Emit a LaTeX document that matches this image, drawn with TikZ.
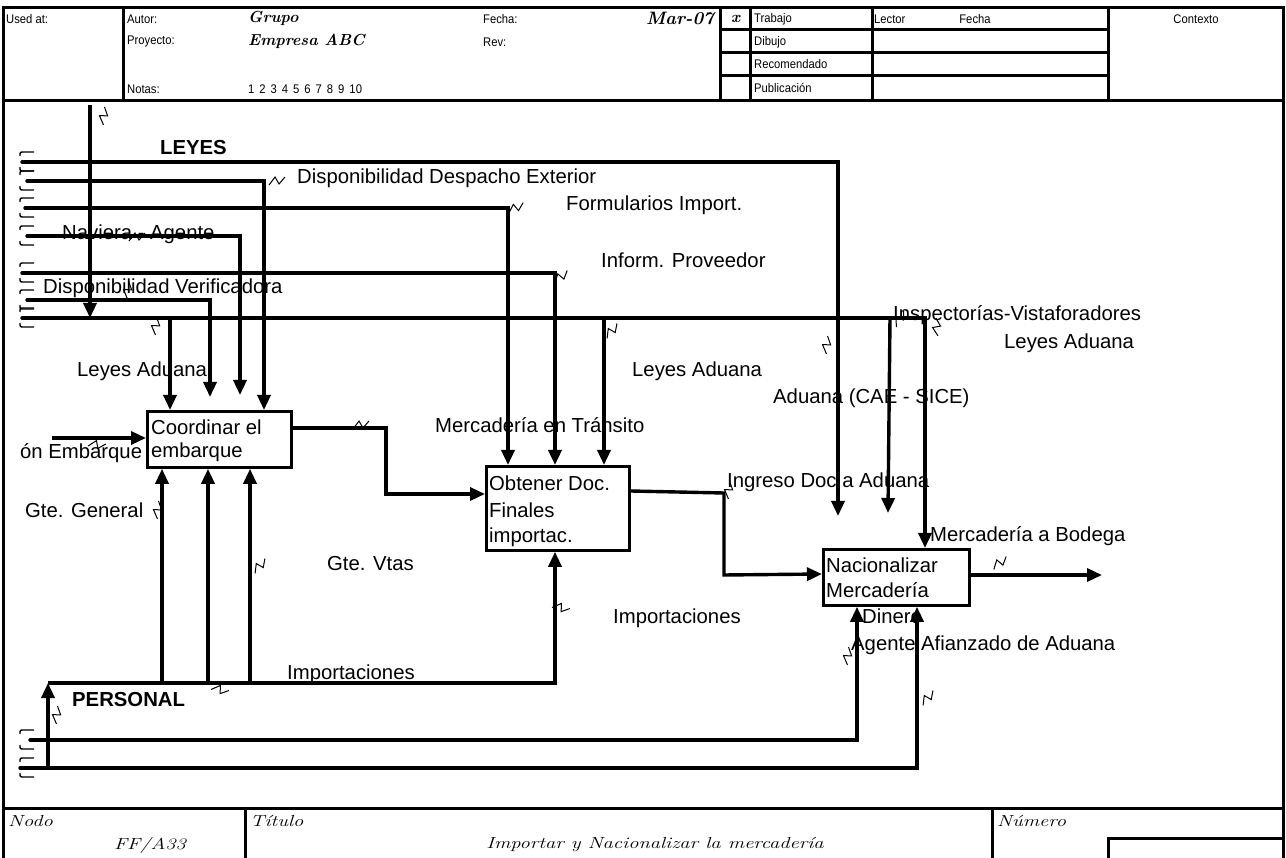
\documentclass[tikz,border=0pt]{standalone}
\usepackage{fontspec}
\newfontfamily\arial{Liberation Sans}
\newfontfamily\narrow{Liberation Sans}[FakeStretch=0.9]
\newfontfamily\scriptf{Latin Modern Roman}[FakeStretch=1.28]
\usetikzlibrary{arrows.meta}
\begin{document}
\begin{tikzpicture}[x=1pt,y=-1pt,
 conn/.style={line width=3.4pt},
 arr/.style={conn,-{Triangle[length=15pt,width=13pt]}},
 box/.style={draw,line width=2.8pt,inner sep=0,anchor=north west},
 lbl/.style={font=\arial\fontsize{20.3}{24}\selectfont,inner sep=0,anchor=west},
 blbl/.style={font=\arial\bfseries\fontsize{20.3}{24}\selectfont,inner sep=0,anchor=west},
 hdr/.style={font=\narrow\fontsize{12.5}{14}\selectfont,inner sep=0,anchor=west},
 scr/.style={font=\itshape\bfseries\fontsize{16}{18}\selectfont,inner sep=0,anchor=west},
 fscr/.style={font=\scriptf\itshape\fontsize{16}{18}\selectfont,inner sep=0},
 fr/.style={line width=3pt},
 sq/.pic={\draw[line width=1pt] (-8,4) -- (-2,-4) -- (2,3) -- (8,-4);},
 bt/.pic={\draw[line width=1.4pt] (0,4) .. controls (0,0) .. (4,0) -- (14,0);},
 bb/.pic={\draw[line width=1.4pt] (0,-4) .. controls (0,0) .. (4,0) -- (14,0);},
]
\useasboundingbox (0,0) rectangle (1286,858);
% ---------- frame ----------
\draw[fr] (3,858) -- (3,8) -- (1283,8) -- (1283,858);
\draw[fr] (3,101) -- (1283,101);
\foreach \x in {123,720,750,872,1108} \draw[fr] (\x,8) -- (\x,101);
\foreach \y in {30,53,76} \draw[fr] (720,\y) -- (1108,\y);
\draw[fr] (3,808) -- (1283,808);
\draw[fr] (245,808) -- (245,858);
\draw[fr] (992,808) -- (992,858);
\draw[fr] (1108,858) -- (1108,838) -- (1283,838);
% ---------- header texts ----------
\node[hdr] (usedat) at (6,19) {Used at:};
\node[hdr] (autor) at (127,19) {Autor:};
\node[hdr] (proy) at (127,42) {Proyecto:};
\node[hdr] (notas) at (127,89) {Notas:};
\node[scr] (grupo) at (248,18) {Grupo};
\node[scr] (empresa) at (248,41) {Empresa ABC};
\node[hdr] (nums) at (248,89) {1\hspace{5pt}2\hspace{5pt}3\hspace{5pt}4\hspace{5pt}5\hspace{5pt}6\hspace{5pt}7\hspace{5pt}8\hspace{5pt}9\hspace{5pt}10};
\node[hdr] (fecha1) at (483,19) {Fecha:};
\node[hdr] (rev) at (483,42) {Rev:};
\node[scr,anchor=east,font=\itshape\bfseries\fontsize{18}{20}\selectfont] (mar) at (714,18) {Mar-07};
\node[scr] (xmark) at (731,19) {x};
\node[hdr] (trabajo) at (754,19) {Trabajo};
\node[hdr] (dibujo) at (754,42) {Dibujo};
\node[hdr] (recom) at (754,64) {Recomendado};
\node[hdr] (publ) at (754,88) {Publicación};
\node[hdr] (lector) at (874,19) {Lector};
\node[hdr,anchor=center] (fecha2) at (975,19) {Fecha};
\node[hdr,anchor=center] (contexto) at (1196,19) {Contexto};
% ---------- footer texts ----------
\node[fscr,anchor=west] (nodo) at (8,821) {Nodo};
\node[fscr] (ff) at (150,845) {FF/A33};
\node[fscr,anchor=west] (titulo) at (250,821) {Título};
\node[fscr] (tit) at (655,845) {Importar y Nacionalizar la mercadería};
\node[fscr,anchor=west] (numero) at (997,821) {Número};
% ---------- boxes ----------
\node[box,minimum width=144,minimum height=56] (A) at (146,410) {};
\node[box,minimum width=143,minimum height=84] (B) at (485,465) {};
\node[box,minimum width=146,minimum height=56] (C) at (822,548) {};
\node[lbl] (At1) at (151,427) {Coordinar el};
\node[lbl] (At2) at (151,452) {embarque};
\node[lbl] (Bt1) at (489,483) {Obtener Doc.};
\node[lbl] (Bt2) at (489,510) {Finales};
\node[lbl] (Bt3) at (489,537) {importac.};
\node[lbl] (Ct1) at (826,565) {Nacionalizar};
\node[lbl] (Ct2) at (826,590) {Mercadería};
% ---------- coordinates ----------
\coordinate (s1) at (22,162);
\coordinate (s2) at (27,181);
\coordinate (s3) at (25,208);
\coordinate (s4) at (27,236);
\coordinate (s5) at (22,273);
\coordinate (s6) at (27,300);
\coordinate (s7) at (22,318);
\coordinate (leyesTop) at (90,105);
\coordinate (e1) at (838,516);
\coordinate (e4) at (240,395);
\coordinate (e6) at (210,397);
\coordinate (e7) at (888,513);
\coordinate (inp) at (52,438);
\coordinate (out) at (1102,575);
\coordinate (p0) at (48,768);
\coordinate (b1) at (30,740);
\coordinate (b2) at (20,768);
% ---------- control arrows ----------
\draw[arr,line cap=round] (s1) -- (838,162) -- (e1);
\draw[arr,line cap=round] (s2) -- (264,181) -- (264,0 |- A.north);
\draw[arr,line cap=round] (s3) -- (508,208) -- (508,0 |- B.north);
\draw[arr,line cap=round] (s4) -- (240,236) -- (e4);
\draw[arr,line cap=round] (s5) -- (555,273) -- (555,0 |- B.north);
\draw[arr,line cap=round] (s6) -- (210,300) -- (e6);
\draw[arr,line cap=round] (s7) -- (925,318) -- (925,0 |- C.north);
\draw[arr] (170,318) -- (170,0 |- A.north);
\draw[arr] (604,318) -- (604,0 |- B.north);
\draw[arr] (890,318) -- (e7);
\draw[arr] (leyesTop) -- (90,318);
% ---------- inputs / outputs ----------
\draw[arr] (inp) -- (A.west |- inp);
\draw[arr] (A.east |- 0,428) -- (386,428) -- (386,494) -- (B.west |- 0,494);
\draw[arr] (B.east |- 0,491) -- (724,493) -- (724,575) -- (C.west |- 0,574);
\draw[arr] (C.east |- out) -- (out);
% ---------- mechanisms ----------
\draw[arr] (p0) -- (48,683);
\draw[arr] (48,683) -- (555,683) -- (555,0 |- B.south);
\draw[arr] (162,683) -- (162,0 |- A.south);
\draw[arr] (208,683) -- (208,0 |- A.south);
\draw[arr] (250,683) -- (250,0 |- A.south);
\draw[arr,line cap=round] (b1) -- (857,740) -- (857,0 |- C.south);
\draw[arr,line cap=round] (b2) -- (917,768) -- (917,0 |- C.south);
% ---------- bracket marks ----------
\foreach \y in {162,181,208,236,273,300,318,740,768} {
  \pic at (20,\y-10) {bt};
  \pic at (20,\y+9) {bb};
}
% ---------- labels ----------
\node[blbl] (leyes) at (160,148) {LEYES};
\node[lbl] (l1) at (297,178) {Disponibilidad Despacho Exterior};
\node[lbl] (l2) at (566,205) {Formularios Import.};
\node[lbl] (l3) at (601,260) {Inform. Proveedor};
\node[lbl] (l4) at (62,234) {Naviera - Agente};
\node[lbl] (l5) at (43,288) {Disponibilidad Verificadora};
\node[lbl] (l6) at (77,371) {Leyes Aduana};
\node[lbl] (l7) at (20,453) {ón Embarque};
\node[lbl] (l8) at (435,425) {Mercadería en Tránsito};
\node[lbl] (l9) at (632,371) {Leyes Aduana};
\node[lbl] (l10) at (773,398) {Aduana (CAE - SICE)};
\node[lbl] (l11) at (893,315) {Inspectorías-Vistaforadores};
\node[lbl] (l12) at (1004,343) {Leyes Aduana};
\node[lbl] (l13) at (727,482) {Ingreso Doc a Aduana};
\node[lbl] (l14) at (930,536) {Mercadería a Bodega};
\node[lbl] (l15) at (25,510) {Gte. General};
\node[lbl] (l16) at (327,564) {Gte. Vtas};
\node[lbl] (l17) at (613,618) {Importaciones};
\node[lbl] (l18) at (287,674) {Importaciones};
\node[lbl] (l19) at (862,616) {Dinero};
\node[lbl] (l20) at (851,645) {Agente Afianzado de Aduana};
\node[blbl] (personal) at (72,700) {PERSONAL};
% ---------- squiggles ----------
\foreach \p/\r in {{(104,116)}/60,{(277,181)}/0,{(516,208)}/10,{(561,277)}/20,{(137,237)}/0,{(128,290)}/60,{(156,326)}/60,{(612,331)}/30,{(827,345)}/60,{(900,319)}/40,{(937,327)}/70,{(361,425)}/0,{(729,490)}/60,{(97,445)}/-20,{(158,510)}/60,{(260,566)}/30,{(561,608)}/-30,{(220,690)}/-30,{(57,715)}/60,{(848,656)}/60,{(928,698)}/30,{(1000,563)}/20}
  \pic[rotate=\r] at \p {sq};
\end{tikzpicture}
\end{document}
